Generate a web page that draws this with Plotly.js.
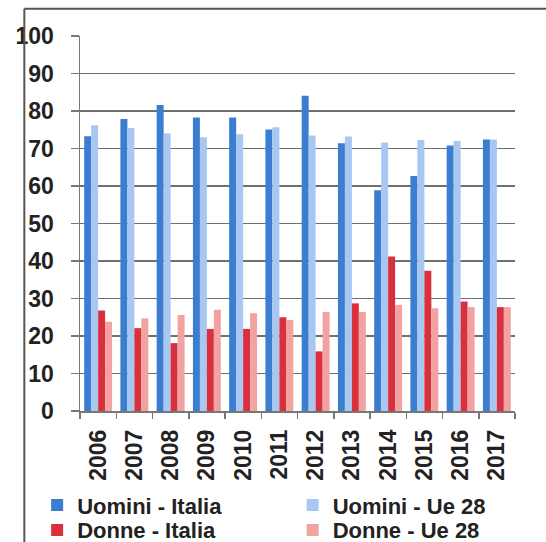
<!DOCTYPE html>
<html>
<head>
<meta charset="utf-8">
<script src="https://cdn.plot.ly/plotly-3.0.1.min.js"></script>
<style>html,body{margin:0;padding:0;background:#fff;}#chart{width:546px;height:542px;}</style>
</head>
<body>
<div id="chart"></div>
<script>
const years = ["2006","2007","2008","2009","2010","2011","2012","2013","2014","2015","2016","2017"];
const uominiItalia = [73.3, 77.9, 81.6, 78.3, 78.3, 75.1, 84.1, 71.4, 58.9, 62.7, 70.8, 72.4];
const uominiUe28   = [76.2, 75.5, 74.0, 73.0, 73.8, 75.7, 73.5, 73.2, 71.6, 72.3, 72.0, 72.4];
const donneItalia  = [26.8, 22.1, 18.1, 21.9, 21.9, 25.0, 15.9, 28.7, 41.2, 37.4, 29.2, 27.7];
const donneUe28    = [23.8, 24.7, 25.6, 27.0, 26.1, 24.3, 26.4, 26.4, 28.3, 27.4, 27.7, 27.7];
const seriesNames  = ["Uomini - Italia", "Uomini - Ue 28", "Donne - Italia", "Donne - Ue 28"];
const yTicks = [0,10,20,30,40,50,60,70,80,90,100];

const colors = ["#3b7dd0", "#a8c7f1", "#d8313d", "#f2a3a1"];
const legendIds = ["legend", "legend2", "legend3", "legend4"];
const series = [uominiItalia, uominiUe28, donneItalia, donneUe28];
const traces = series.map((vals, i) => ({
  type: "bar",
  x: years,
  y: vals,
  name: seriesNames[i],
  legend: legendIds[i],
  marker: {color: colors[i], line: {width: 0}},
  hoverinfo: "x+y+name"
}));

const fontFamily = "Liberation Sans, Arial, sans-serif";
const legendFont = {family: fontFamily, size: 22, color: "#222222", weight: "bold"};
const legendBase = {
  orientation: "v",
  xref: "container",
  yref: "container",
  xanchor: "left",
  yanchor: "middle",
  font: legendFont,
  itemclick: false,
  tracegroupgap: 0,
  bgcolor: "rgba(0,0,0,0)",
  borderwidth: 0
};
const col1 = 0.068, col2 = 0.536, row1 = 0.068, row2 = 0.022;
const layout = {
  width: 546,
  height: 542,
  margin: {l: 80, r: 31, t: 36, b: 131, pad: 0, autoexpand: false},
  paper_bgcolor: "#ffffff",
  plot_bgcolor: "#ffffff",
  barmode: "group",
  bargap: 0.23,
  bargroupgap: 0,
  font: {family: fontFamily, color: "#222222", size: 21, weight: "bold"},
  xaxis: {
    type: "category",
    tickangle: -90,
    automargin: false,
    tickfont: {family: fontFamily, size: 23, color: "#222222", weight: "bold"},
    ticklabelstandoff: 8,
    showline: true,
    linecolor: "#777777",
    linewidth: 1.5,
    ticks: "outside",
    tickson: "boundaries",
    ticklen: 6,
    tickcolor: "#777777",
    tickwidth: 1.5,
    showgrid: false,
    fixedrange: true
  },
  yaxis: {
    range: [0, 100],
    automargin: false,
    tickvals: yTicks,
    ticktext: yTicks.map(String),
    tickfont: {family: fontFamily, size: 23, color: "#222222", weight: "bold"},
    showline: true,
    linecolor: "#777777",
    linewidth: 1.5,
    ticks: "outside",
    ticklen: 8,
    tickcolor: "#777777",
    tickwidth: 1.5,
    ticklabelstandoff: 12,
    showgrid: true,
    gridcolor: "#6f6f6f",
    gridwidth: 1.2,
    zeroline: false,
    fixedrange: true
  },
  legend: Object.assign({}, legendBase, {x: col1, y: row1}),
  legend2: Object.assign({}, legendBase, {x: col2, y: row1}),
  legend3: Object.assign({}, legendBase, {x: col1, y: row2}),
  legend4: Object.assign({}, legendBase, {x: col2, y: row2}),
  shapes: [
    {type: "line", xref: "paper", yref: "paper", x0: -0.128, x1: 1.1, y0: 1.073, y1: 1.073, line: {color: "#555555", width: 2}},
    {type: "line", xref: "paper", yref: "paper", x0: -0.128, x1: -0.128, y0: 1.073, y1: -0.4, line: {color: "#555555", width: 2}}
  ],
  showlegend: true
};

Plotly.newPlot("chart", traces, layout, {staticPlot: true, displayModeBar: false});
</script>
</body>
</html>
